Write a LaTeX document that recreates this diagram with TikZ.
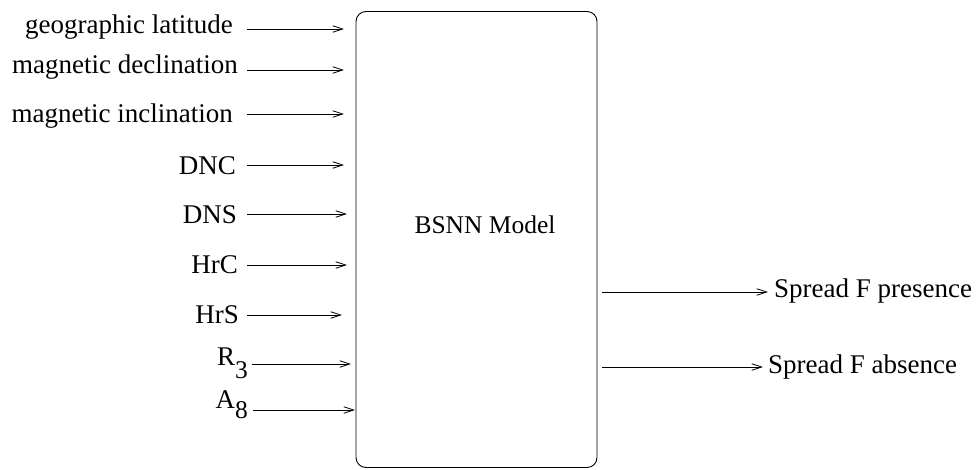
\documentclass[tikz,border=0pt]{standalone}
\usepackage{fontspec}
\setmainfont{Liberation Serif}
\usetikzlibrary{arrows.meta}
\begin{document}
\begin{tikzpicture}[x=1pt,y=-1pt,
  lab/.style={inner sep=0pt, font=\fontsize{27}{31}\selectfont},
  inarr/.style={-{Straight Barb[length=10pt,width=6.5pt]}, line width=0.8pt}]
\useasboundingbox (0,0) rectangle (976,469);
\node[draw, line width=0.9pt, rounded corners=10pt, minimum width=241pt, minimum height=456pt, inner sep=0pt] (box) at (476.5,239.5) {};
\node[lab, font=\fontsize{25.5}{30}\selectfont, anchor=base] (bsnn) at (485,233) {BSNN Model};
% inputs
\node[lab, anchor=base east] (l1) at (233,33) {geographic latitude};
\node[lab, anchor=base east] (l2) at (238,73) {magnetic declination};
\node[lab, anchor=base east] (l3) at (233,122) {magnetic inclination};
\node[lab, anchor=base east] (l4) at (236,174) {DNC};
\node[lab, anchor=base east] (l5) at (237,223) {DNS};
\node[lab, anchor=base east] (l6) at (238,273) {HrC};
\node[lab, anchor=base east] (l7) at (239,323) {HrS};
\node[lab, anchor=base east] (l8) at (248,365) {R\raisebox{-13pt}{\fontsize{25.5}{28}\selectfont 3}};
\node[lab, anchor=base east] (l9) at (248,408) {A\raisebox{-10pt}{\fontsize{25.5}{28}\selectfont 8}};
\coordinate (s1) at (247,29);  \coordinate (e1) at (344,29);
\coordinate (s2) at (247,70);  \coordinate (e2) at (344,70);
\coordinate (s3) at (247,114); \coordinate (e3) at (344,114);
\coordinate (s4) at (247,165); \coordinate (e4) at (344,165);
\coordinate (s5) at (247,214); \coordinate (e5) at (347,214);
\coordinate (s6) at (247,265); \coordinate (e6) at (347,265);
\coordinate (s7) at (247,315); \coordinate (e7) at (342,315);
\coordinate (s8) at (252,364); \coordinate (e8) at (351,364);
\coordinate (s9) at (253,410); \coordinate (e9) at (355,410);
\foreach \i in {1,...,9} {\draw[inarr] (s\i) -- (e\i);}
% outputs
\node[lab, anchor=base west] (o1) at (774,297) {Spread F presence};
\node[lab, anchor=base west] (o2) at (768,373) {Spread F absence};
\coordinate (t1) at (602,292); \coordinate (u1) at (768,292);
\coordinate (t2) at (602,367); \coordinate (u2) at (763,367);
\draw[inarr] (t1) -- (u1);
\draw[inarr] (t2) -- (u2);
\end{tikzpicture}
\end{document}
